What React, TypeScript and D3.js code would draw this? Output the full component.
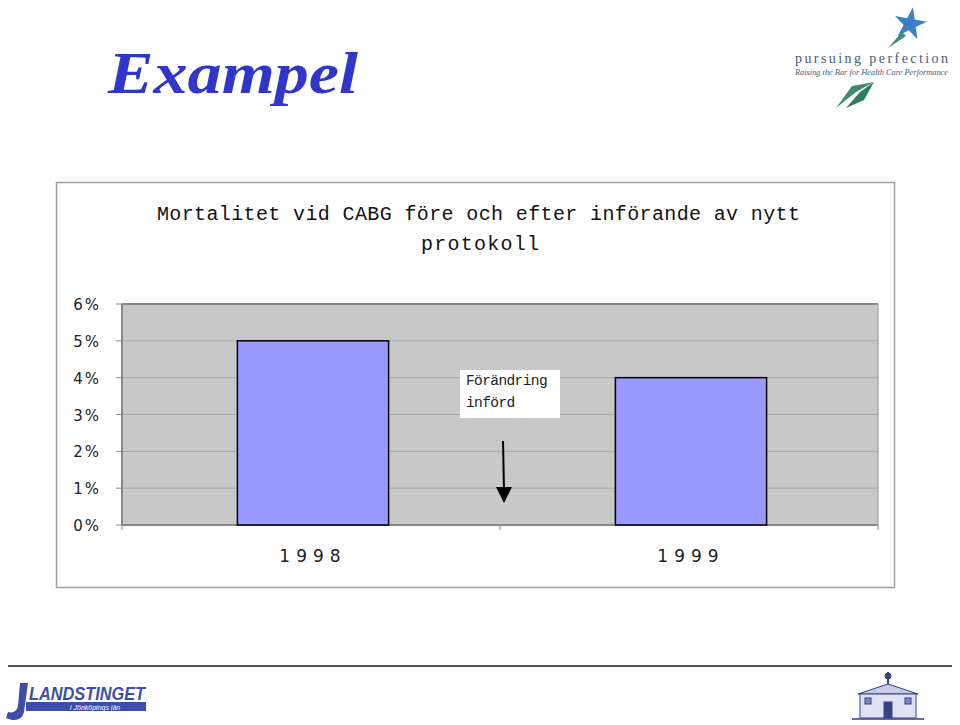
import React from "react";
import * as d3 from "d3";

const categories = ["1998", "1999"];
const mortality = [5, 4]; // percent
const yTicks = [0, 1, 2, 3, 4, 5, 6];
const titleLines = ["Mortalitet vid CABG före och efter införande av nytt", "protokoll"];
const annotationLines = ["Förändring", "införd"];

export default function App() {
  const W = 960, H = 725;
  const plot = { left: 122, right: 878, top: 304, bottom: 525 };
  const x = d3.scaleBand<string>().domain(categories).range([plot.left + 2, plot.right + 2]).paddingInner(0.6).paddingOuter(0.3);
  const xOuter = d3.scaleBand<string>().domain(categories).range([plot.left, plot.right]);
  const y = d3.scaleLinear().domain([0, 6]).range([plot.bottom, plot.top]);
  const arrowX = (xOuter("1998")! + xOuter.bandwidth());

  return (
    <svg width={W} height={H} viewBox={`0 0 ${W} ${H}`} style={{ position: "absolute", left: 0, top: 0, background: "#fff" }}>
      {/* Heading */}
      <text x={108} y={93} fontFamily="Liberation Serif, serif" fontStyle="italic" fontWeight="bold" fontSize={60} fill="#2f36c9"
        textLength={250} lengthAdjust="spacingAndGlyphs">Exampel</text>

      {/* Top-right logo */}
      <g>
        <path d="M836,108 L852,86 L874,82 L856,92 Z" fill="#3d8c74" />
        <path d="M846,108 L860,92 L874,82 L864,100 Z" fill="#2e7a62" />
        <path d="M888,48 L902,32 L906,36 Z" fill="#3d8c74" />
        <path d={d3.symbol().type(d3.symbolStar).size(320)()!} transform="translate(910,24) rotate(10)" fill="#3a7fc8" />
        <text x={795} y={63} fontFamily="Liberation Serif, serif" fontSize={14} fill="#4a5a80" textLength={153} lengthAdjust="spacing">pursuing perfection</text>
        <text x={795} y={75} fontFamily="Liberation Serif, serif" fontStyle="italic" fontSize={7.6} fill="#4a5a80" textLength={153} lengthAdjust="spacingAndGlyphs">Raising the Bar for Health Care Performance</text>
      </g>

      {/* Chart frame */}
      <rect x={56.5} y={182.5} width={838} height={405} fill="#fff" stroke="#a0a0a0" strokeWidth={1.5} />

      {/* Title */}
      {titleLines.map((t, i) => (
        <text key={i} x={i === 0 ? 157 : 421} y={220 + i * 30} fontFamily="Liberation Mono, monospace" fontSize={20} fill="#111"
          textLength={i === 0 ? 643 : 118} lengthAdjust="spacing">{t}</text>
      ))}

      {/* Plot area */}
      <rect x={plot.left} y={plot.top} width={plot.right - plot.left} height={plot.bottom - plot.top} fill="#c8c8c8" />
      {yTicks.map((t) => (
        <g key={t}>
          <line x1={plot.left} x2={plot.right} y1={y(t)} y2={y(t)} stroke={t === 0 || t === 6 ? "#888" : "#a6a6a6"} strokeWidth={t === 0 || t === 6 ? 2 : 1} />
          <line x1={plot.left - 6} x2={plot.left} y1={y(t)} y2={y(t)} stroke="#888" strokeWidth={1} />
          <text x={101} y={y(t) + 6} textAnchor="end" fontFamily="DejaVu Sans, sans-serif" fontSize={15} letterSpacing={2} fill="#222">{`${t}%`}</text>
        </g>
      ))}
      <line x1={plot.left} x2={plot.left} y1={plot.top} y2={plot.bottom} stroke="#888" strokeWidth={2} />
      <line x1={plot.right} x2={plot.right} y1={plot.top} y2={plot.bottom} stroke="#999" strokeWidth={1} />
      {[plot.left, xOuter("1999")!, plot.right].map((v, i) => (
        <line key={i} x1={v} x2={v} y1={plot.bottom} y2={plot.bottom + 5} stroke="#888" strokeWidth={1} />
      ))}

      {/* Bars */}
      {categories.map((c, i) => (
        <rect key={c} x={x(c)} y={y(mortality[i])} width={x.bandwidth()} height={y(0) - y(mortality[i])} fill="#9999ff" stroke="#000" strokeWidth={1.5} />
      ))}

      {/* Category labels */}
      {categories.map((c) => (
        <text key={c} x={x(c)! + x.bandwidth() / 2} y={562} textAnchor="middle" fontFamily="DejaVu Sans, sans-serif" fontSize={17} letterSpacing={6} fill="#222">{c}</text>
      ))}

      {/* Annotation */}
      <rect x={460} y={370} width={100} height={48} fill="#fff" />
      {annotationLines.map((t, i) => (
        <text key={i} x={466} y={385 + i * 22} fontFamily="Liberation Mono, monospace" fontSize={14.5} letterSpacing={-0.6} fill="#222">{t}</text>
      ))}
      <line x1={arrowX + 3} y1={441} x2={arrowX + 4} y2={490} stroke="#000" strokeWidth={2} />
      <path d={`M${arrowX - 4},487 L${arrowX + 12},487 L${arrowX + 4},503 Z`} fill="#000" />

      {/* Footer */}
      <line x1={8} x2={952} y1={666} y2={666} stroke="#555" strokeWidth={2} />
      <g>
        <path d="M20,683 L28,683 L24,712 Q22,721 12,720 L6,718 L8,712 Q16,714 18,706 Z" fill="#3c4ea8" />
        <text x={29} y={700} fontFamily="Liberation Sans, sans-serif" fontStyle="italic" fontWeight="bold" fontSize={19} fill="#3c4ea8"
          textLength={116} lengthAdjust="spacingAndGlyphs">LANDSTINGET</text>
        <rect x={26} y={702} width={120} height={9} fill="#3c4ea8" />
        <text x={70} y={709.5} fontFamily="Liberation Sans, sans-serif" fontStyle="italic" fontSize={7} fill="#fff">i Jönköpings län</text>
      </g>
      <g stroke="#3a3f8a" fill="none" strokeWidth={1}>
        <path d="M858,694 L888,684 L918,694 Z" fill="#c8cce8" />
        <rect x={860} y={694} width={56} height={24} fill="#dfe2f2" />
        <line x1={888} y1={672} x2={888} y2={684} strokeWidth={2} />
        <circle cx={888} cy={676} r={3} fill="#3a3f8a" />
        <rect x={884} y={702} width={8} height={16} fill="#3a3f8a" />
        <rect x={865} y={698} width={6} height={6} fill="#8088c0" />
        <rect x={905} y={698} width={6} height={6} fill="#8088c0" />
        <line x1={852} y1={719} x2={924} y2={719} strokeWidth={1.5} />
      </g>
    </svg>
  );
}
